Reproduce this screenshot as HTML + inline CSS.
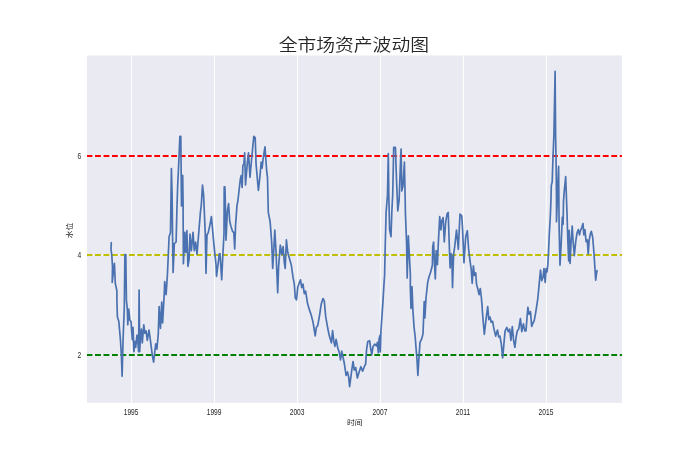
<!DOCTYPE html>
<html lang="zh">
<head>
<meta charset="utf-8">
<title>全市场资产波动图</title>
<style>
html,body{margin:0;padding:0;background:#fff;}
body{width:690px;height:460px;overflow:hidden;}
svg{display:block;}
.cjk{font-family:"Liberation Sans","Noto Sans CJK SC",sans-serif;fill:#262626;}
.tick{font-family:"Liberation Sans","Noto Sans CJK SC",sans-serif;font-size:8.9px;fill:#262626;}
</style>
</head>
<body>
<svg width="690" height="460" viewBox="0 0 690 460">
<defs><filter id="soft" x="0" y="0" width="100%" height="100%" filterUnits="userSpaceOnUse"><feGaussianBlur stdDeviation="0.4"/></filter></defs>
<g filter="url(#soft)">
<rect x="-5" y="-5" width="700" height="470" fill="#ffffff"/>
<rect x="87.0" y="55.5" width="534.9" height="347.4" fill="#eaeaf2"/>
<g stroke="#ffffff" stroke-width="0.95"><line x1="131.5" x2="131.5" y1="55.5" y2="402.9"/><line x1="214.5" x2="214.5" y1="55.5" y2="402.9"/><line x1="297.5" x2="297.5" y1="55.5" y2="402.9"/><line x1="380.4" x2="380.4" y1="55.5" y2="402.9"/><line x1="463.4" x2="463.4" y1="55.5" y2="402.9"/><line x1="546.4" x2="546.4" y1="55.5" y2="402.9"/><line x1="87.0" x2="621.9" y1="156.0" y2="156.0"/><line x1="87.0" x2="621.9" y1="255.0" y2="255.0"/><line x1="87.0" x2="621.9" y1="355.0" y2="355.0"/></g>
<clipPath id="ax"><rect x="87.0" y="55.5" width="534.9" height="347.4"/></clipPath>
<g fill="none" stroke-width="1.85" stroke-dasharray="5.91 2.553" clip-path="url(#ax)">
<line x1="86.55" x2="623.9" y1="156.0" y2="156.0" stroke="#ff0000"/>
<line x1="86.55" x2="623.9" y1="255.0" y2="255.0" stroke="#bfbf00"/>
<line x1="86.55" x2="623.9" y1="355.0" y2="355.0" stroke="#008000"/>
</g>
<path d="M111.3,242.5 L111.0,249.0 L111.8,255.4 L112.5,266.7 L112.2,282.4 L114.4,263.3 L115.3,283.3 L116.9,291.0 L116.9,300.4 L117.4,317.0 L118.8,321.3 L120.5,340.4 L121.4,356.0 L122.1,376.3 L123.0,342.0 L124.3,307.4 L124.9,254.6 L125.8,254.6 L126.4,300.0 L127.3,309.1 L127.8,324.8 L128.7,309.1 L129.9,320.4 L131.0,321.3 L132.3,339.6 L133.0,327.4 L133.9,351.7 L134.8,341.3 L135.7,347.4 L137.0,335.2 L137.9,342.2 L138.6,351.7 L139.1,290.2 L139.7,351.7 L140.3,339.6 L141.4,329.1 L142.3,343.0 L143.8,324.8 L144.9,333.5 L146.1,330.9 L147.3,340.4 L149.0,330.0 L150.4,340.4 L152.2,354.3 L153.6,362.2 L154.6,353.5 L155.7,343.9 L156.9,349.1 L158.3,333.5 L159.1,306.5 L160.5,328.3 L161.7,302.2 L162.6,323.0 L164.3,292.6 L164.7,281.5 L166.1,294.6 L167.4,275.0 L168.3,255.0 L169.1,236.7 L170.5,232.4 L171.4,168.5 L172.1,195.0 L172.6,240.2 L173.1,272.4 L174.3,243.7 L176.1,242.0 L176.9,210.0 L177.7,185.0 L178.7,164.0 L179.9,136.3 L180.8,136.3 L181.2,177.0 L181.5,206.0 L182.7,175.4 L183.1,205.0 L183.1,212.4 L183.4,263.7 L184.8,232.4 L185.7,252.4 L186.9,230.7 L187.9,266.3 L189.1,259.3 L190.0,234.1 L191.4,250.7 L193.0,232.4 L194.3,250.7 L195.6,242.0 L197.0,254.1 L198.7,233.3 L200.4,212.4 L201.3,205.0 L202.5,185.0 L203.6,195.0 L204.8,222.8 L205.3,235.0 L206.0,273.3 L207.0,235.0 L208.3,232.4 L210.0,224.6 L211.4,216.7 L212.6,229.8 L214.0,245.4 L214.9,254.1 L216.1,265.4 L216.5,276.3 L218.3,262.4 L219.2,254.1 L220.0,253.7 L221.7,279.8 L222.6,259.8 L224.0,233.7 L224.2,186.8 L224.9,186.8 L225.2,197.0 L226.0,240.2 L227.4,210.7 L228.6,203.7 L229.7,221.0 L230.9,226.3 L232.6,231.5 L233.8,232.4 L234.7,248.9 L235.6,224.6 L237.0,205.4 L237.8,201.5 L240.3,179.5 L241.2,175.5 L242.1,187.5 L242.9,165.5 L243.9,164.1 L244.7,152.9 L245.5,185.0 L247.3,163.4 L248.5,152.9 L250.0,177.3 L251.8,156.8 L253.8,136.4 L255.2,137.6 L256.1,164.6 L258.4,190.3 L260.0,175.7 L261.2,162.0 L262.1,168.1 L263.3,157.4 L265.0,146.8 L266.0,161.7 L266.8,172.2 L267.5,177.4 L268.0,200.0 L268.3,212.4 L270.0,221.0 L270.4,225.0 L271.7,242.4 L272.7,268.5 L273.9,247.6 L274.8,230.2 L276.0,251.0 L277.7,292.8 L278.6,266.7 L280.3,245.0 L281.7,254.6 L283.1,246.7 L284.3,262.4 L285.2,268.5 L286.4,239.8 L287.8,252.8 L289.6,258.9 L291.3,265.0 L293.0,277.2 L294.3,284.1 L295.3,298.0 L296.5,299.8 L297.7,287.6 L299.1,283.3 L300.5,279.8 L301.7,287.6 L303.0,284.1 L304.3,293.7 L305.6,291.1 L307.0,299.8 L307.4,302.8 L309.1,308.9 L311.2,315.0 L313.0,322.0 L315.2,335.9 L316.4,327.2 L317.8,325.4 L319.6,315.0 L321.3,303.7 L323.0,298.5 L324.3,301.1 L325.7,316.7 L327.4,326.3 L329.1,335.0 L331.4,342.8 L332.6,330.7 L333.8,341.1 L334.9,346.3 L336.1,339.3 L337.8,348.0 L339.3,352.6 L340.5,359.8 L341.7,351.1 L343.0,357.2 L344.3,363.3 L346.1,375.4 L347.5,372.0 L348.7,377.2 L349.6,386.7 L351.3,373.7 L353.0,361.5 L354.3,370.2 L355.7,367.6 L357.4,378.0 L359.1,372.0 L360.9,366.7 L362.6,371.1 L364.3,366.7 L365.6,364.1 L366.6,349.3 L367.8,341.5 L369.6,340.7 L370.8,349.3 L371.8,354.6 L373.0,346.7 L374.8,344.1 L376.5,345.9 L377.4,342.4 L378.3,352.8 L379.1,338.9 L380.0,335.4 L380.3,352.0 L380.9,332.0 L381.8,318.5 L383.0,301.1 L383.9,285.4 L384.6,275.0 L385.2,247.2 L386.1,212.4 L387.5,195.0 L388.3,153.5 L388.8,195.0 L389.6,229.8 L391.0,236.7 L391.8,212.4 L392.7,195.0 L393.7,147.4 L395.4,147.4 L396.6,182.2 L397.8,211.0 L399.1,200.2 L400.4,164.8 L401.1,149.1 L401.8,190.9 L403.0,185.7 L404.4,162.2 L405.2,200.0 L405.4,212.4 L406.6,243.7 L407.2,278.0 L408.3,235.9 L409.2,252.4 L410.4,275.0 L410.3,285.9 L411.0,308.5 L412.0,286.7 L412.9,310.2 L414.1,327.6 L415.2,337.0 L416.0,347.6 L417.0,359.8 L417.9,375.4 L418.8,359.8 L420.0,342.4 L421.7,338.9 L423.0,333.7 L423.5,320.7 L424.2,301.5 L424.9,318.0 L426.0,298.0 L427.7,282.4 L428.9,277.2 L430.7,272.0 L432.4,265.0 L432.7,247.2 L433.6,242.0 L434.4,261.1 L435.3,278.9 L436.2,250.7 L437.4,264.6 L438.3,243.7 L439.7,216.7 L440.9,229.8 L441.7,221.1 L443.1,217.6 L444.3,242.0 L445.6,222.8 L447.0,214.1 L448.2,212.4 L449.0,236.7 L450.1,268.0 L451.0,253.5 L451.8,256.3 L452.5,287.6 L453.6,254.6 L454.8,245.9 L456.5,230.2 L457.4,238.9 L458.3,249.3 L460.0,214.1 L461.7,215.9 L462.6,229.8 L464.0,262.8 L465.7,236.7 L467.3,230.7 L468.7,250.0 L469.9,259.8 L471.3,270.2 L472.2,283.3 L473.4,265.9 L474.4,275.4 L475.7,272.8 L476.5,284.1 L477.9,289.3 L479.1,294.6 L480.3,288.5 L481.4,298.0 L482.1,306.0 L482.5,313.0 L484.3,334.3 L486.0,319.6 L487.7,306.5 L488.8,319.6 L490.0,317.0 L491.2,322.2 L492.6,321.3 L494.0,329.1 L495.7,336.1 L497.5,330.0 L498.7,337.0 L499.9,336.1 L501.3,343.9 L502.7,357.8 L503.9,343.9 L505.1,330.9 L506.9,327.4 L508.3,331.7 L509.7,329.1 L510.9,340.4 L512.3,326.5 L513.5,339.6 L514.9,347.4 L516.1,337.0 L517.3,330.9 L518.7,329.1 L520.4,318.7 L521.8,331.7 L523.4,323.9 L524.8,330.9 L526.0,330.9 L527.0,317.8 L527.9,307.4 L529.1,314.3 L530.5,311.7 L531.7,326.5 L533.0,323.0 L534.3,320.4 L535.7,312.6 L537.8,298.7 L538.6,290.5 L539.5,280.7 L540.5,270.2 L541.7,280.7 L543.0,277.2 L544.0,268.5 L545.2,282.4 L546.1,268.5 L547.0,272.0 L547.8,265.0 L548.4,255.0 L549.2,236.0 L550.4,214.5 L551.0,199.3 L551.3,185.4 L552.2,182.0 L553.0,157.6 L553.9,135.0 L555.1,71.3 L555.6,135.0 L556.2,169.8 L556.5,199.3 L556.5,221.7 L558.6,166.3 L559.1,226.1 L560.0,265.2 L561.2,243.5 L562.3,217.4 L563.1,224.3 L563.5,201.1 L564.3,190.7 L565.7,176.7 L567.1,216.0 L567.8,240.0 L568.7,260.9 L569.2,230.4 L570.1,263.5 L571.0,243.5 L572.2,226.1 L573.0,240.0 L574.3,255.7 L575.7,241.7 L577.0,233.0 L578.3,229.6 L579.5,234.8 L580.5,230.4 L581.7,227.8 L583.0,223.5 L583.8,234.8 L584.9,229.6 L586.1,241.7 L587.3,240.0 L588.2,253.9 L589.2,240.0 L590.4,233.9 L591.3,231.3 L592.7,237.4 L593.9,252.2 L594.8,266.1 L595.7,280.2 L596.5,274.0 L597.0,270.7" fill="none" stroke="#4c72b0" stroke-width="1.7" stroke-linejoin="round" stroke-linecap="round"/>
<g class="tick" text-anchor="middle"><text transform="translate(131.1,414.6) scale(0.748,1)">1995</text><text transform="translate(214.1,414.6) scale(0.748,1)">1999</text><text transform="translate(297.1,414.6) scale(0.748,1)">2003</text><text transform="translate(380.0,414.6) scale(0.748,1)">2007</text><text transform="translate(463.0,414.6) scale(0.748,1)">2011</text><text transform="translate(546.0,414.6) scale(0.748,1)">2015</text></g>
<g class="tick" text-anchor="end"><text transform="translate(81.3,158.75) scale(0.748,1)">6</text><text transform="translate(81.3,257.75) scale(0.748,1)">4</text><text transform="translate(81.3,357.75) scale(0.748,1)">2</text></g>
<text class="cjk" font-size="18.8" font-weight="350" text-anchor="middle" transform="translate(353.8,50.9) scale(1,0.9)">全市场资产波动图</text>
<text class="cjk" font-size="7.8" text-anchor="middle" transform="translate(354.8,424.9) scale(1,0.9)">时间</text>
<text class="cjk" font-size="7.8" text-anchor="middle" transform="translate(71.6,230.5) rotate(-90) scale(1,0.9)">水位</text>
</g>
</svg>
</body>
</html>
